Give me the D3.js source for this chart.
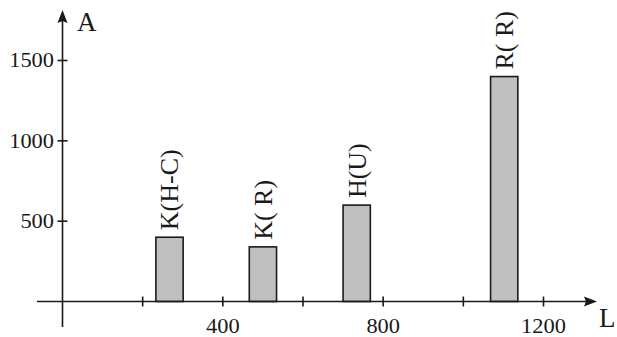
<!DOCTYPE html>
<html>
<head>
<meta charset="utf-8">
<script src="https://cdn.jsdelivr.net/npm/d3@7"></script>
<style>
  html, body { margin: 0; padding: 0; background: #fff; }
  svg { display: block; }
  text { font-family: "Liberation Serif", "DejaVu Serif", serif; fill: #1a1a1a; }
</style>
</head>
<body>
<svg id="chart" width="617" height="337"></svg>
<script>
// ---- data ----
const categories = ["K(H-C)", "K( R)", "H(U)", "R( R)"];
const positions  = [267, 500, 734, 1102];   // L (bar centres)
const values     = [400, 340, 600, 1400];   // A
const barWidthL  = 68;                      // bar width in L units
const xTicks      = [200, 400, 600, 800, 1000, 1200];
const xTickLabels = [400, 800, 1200];
const yTicks      = [500, 1000, 1500];
const xTitle = "L", yTitle = "A";

// ---- layout ----
const svg = d3.select("#chart");
const ink = "#1a1a1a";
const x = d3.scaleLinear().domain([0, 1200]).range([62.5, 543.5]);
const y = d3.scaleLinear().domain([0, 1500]).range([301.5, 60.5]);
const rows = categories.map((c, i) => ({c, p: positions[i], v: values[i]}));

// bars
svg.append("g").selectAll("rect")
  .data(rows)
  .join("rect")
  .attr("x", d => x(d.p - barWidthL / 2))
  .attr("width", d => x(d.p + barWidthL / 2) - x(d.p - barWidthL / 2))
  .attr("y", d => y(d.v))
  .attr("height", d => y(0) - y(d.v))
  .attr("fill", "#c0c0c0")
  .attr("stroke", ink)
  .attr("stroke-width", 1.6);

// bar labels
svg.append("g").selectAll("text")
  .data(rows)
  .join("text")
  .attr("transform", d => `translate(${x(d.p)},${y(d.v) - 7}) rotate(-90)`)
  .attr("dy", "0.34em")
  .attr("text-anchor", "start")
  .style("font-size", "26px")
  .text(d => d.c);

// x axis line
const x0 = x(0);
const yAxisY = y(0);
svg.append("line")
  .attr("x1", 37).attr("x2", 588)
  .attr("y1", yAxisY).attr("y2", yAxisY)
  .attr("stroke", ink).attr("stroke-width", 1.6);
svg.append("path")
  .attr("d", `M597,${yAxisY} L584,${yAxisY - 5} L586,${yAxisY} L584,${yAxisY + 5} Z`)
  .attr("fill", ink);

// y axis line
svg.append("line")
  .attr("x1", x0).attr("x2", x0)
  .attr("y1", 327).attr("y2", 20)
  .attr("stroke", ink).attr("stroke-width", 1.6);
svg.append("path")
  .attr("d", `M${x0},10 L${x0 - 5},23 L${x0},21 L${x0 + 5},23 Z`)
  .attr("fill", ink);

// x ticks
svg.append("g").selectAll("line")
  .data(xTicks).join("line")
  .attr("x1", d => x(d)).attr("x2", d => x(d))
  .attr("y1", yAxisY - 5).attr("y2", yAxisY + 5)
  .attr("stroke", ink).attr("stroke-width", 1.6);
svg.append("g").selectAll("text")
  .data(xTickLabels).join("text")
  .attr("transform", d => `translate(${x(d)},333) scale(1.12,1)`)
  .attr("text-anchor", "middle")
  .style("font-size", "20px")
  .text(d => d);

// y ticks
svg.append("g").selectAll("line")
  .data(yTicks).join("line")
  .attr("x1", x0 - 5).attr("x2", x0 + 5)
  .attr("y1", d => y(d)).attr("y2", d => y(d))
  .attr("stroke", ink).attr("stroke-width", 1.6);
svg.append("g").selectAll("text")
  .data(yTicks).join("text")
  .attr("transform", d => `translate(54,${y(d)}) scale(1.12,1)`)
  .attr("dy", "0.34em")
  .attr("text-anchor", "end")
  .style("font-size", "20px")
  .text(d => d);

// axis titles
svg.append("text").attr("x", 77).attr("y", 31)
  .style("font-size", "27px").text(yTitle);
svg.append("text").attr("x", 599).attr("y", 327)
  .style("font-size", "27px").text(xTitle);
</script>
</body>
</html>
